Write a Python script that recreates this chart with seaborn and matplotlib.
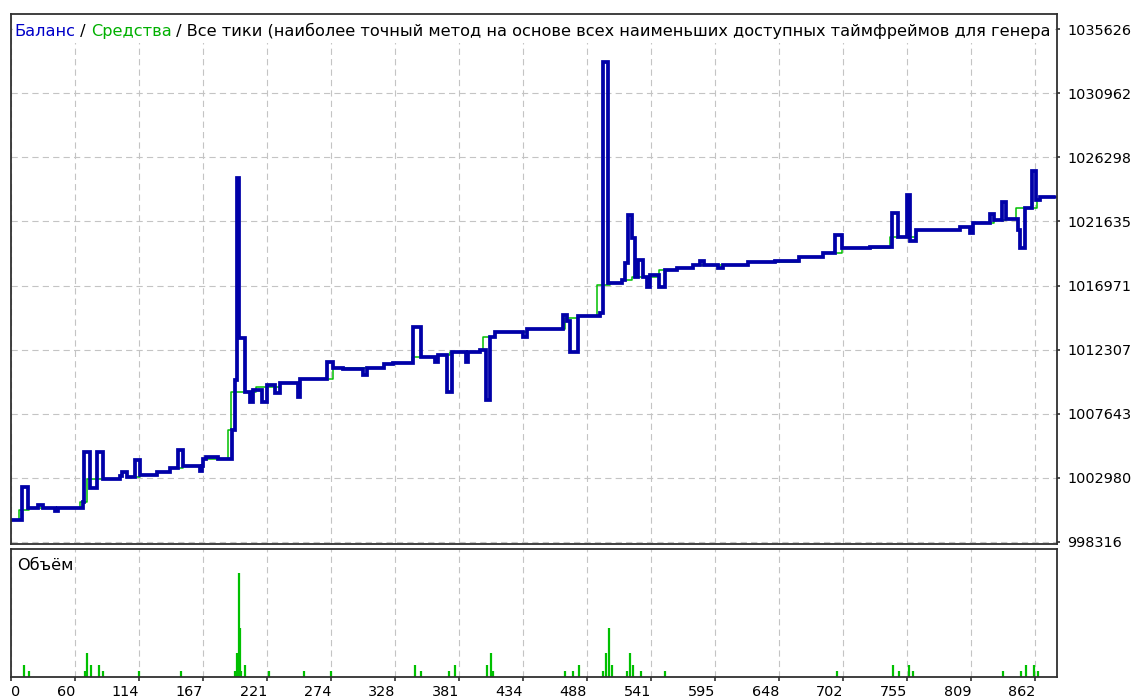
import numpy as np
import pandas as pd
import matplotlib
matplotlib.use("Agg")
import matplotlib.pyplot as plt
from matplotlib.patches import Rectangle
import seaborn as sns

# ---------------- data ----------------
bal_x = [0, 9, 14, 23, 27, 37, 39, 60, 61, 66, 72, 77, 91, 93, 97, 104, 108, 122, 133, 140,
         144, 158, 160, 161, 163, 173, 185, 188, 189, 191, 196, 200, 203, 210, 214, 221, 225, 240, 242, 265,
         270, 278, 295, 298, 312, 320, 337, 343, 355, 358, 365, 369, 381, 383, 393, 398, 401, 405, 429, 432,
         462, 466, 468, 475, 493, 496, 500, 512, 514, 517, 520, 523, 525, 529, 533, 535, 543, 548, 558, 571,
         577, 580, 592, 596, 617, 640, 660, 680, 690, 696, 719, 738, 743, 750, 753, 758, 795, 803, 806, 820,
         823, 830, 833, 843, 845, 849, 855, 858, 862, 874]
balance = [999916, 1002317, 1000790, 1001008, 1000790, 1000571, 1000790, 1001226, 1004864, 1002245,
           1004864, 1002899, 1003118, 1003409, 1003045, 1004282, 1003190, 1003409, 1003700, 1005009,
           1003845, 1003481, 1003845, 1004354, 1004500, 1004354, 1006464, 1010102, 1024797, 1013157,
           1009229, 1008501, 1009374, 1008501, 1009738, 1009156, 1009883, 1008865, 1010174, 1011411,
           1010975, 1010902, 1010465, 1010975, 1011266, 1011338, 1013957, 1011775, 1011411, 1011920,
           1009229, 1012139, 1011411, 1012139, 1012284, 1008647, 1013230, 1013594, 1013230, 1013812,
           1014830, 1014394, 1012139, 1014758, 1014976, 1033236, 1017158, 1017377, 1018613, 1022105,
           1020432, 1017595, 1018832, 1017595, 1016867, 1017740, 1016867, 1018104, 1018250, 1018468,
           1018759, 1018468, 1018250, 1018468, 1018686, 1018759, 1019050, 1019341, 1020650, 1019705,
           1019777, 1022251, 1020505, 1023560, 1020214, 1021014, 1021232, 1020796, 1021523, 1022178,
           1021742, 1023051, 1021814, 1021014, 1019705, 1022615, 1025306, 1023197, 1023415, 1023415]

eq_x = [0, 7, 15, 58, 64, 91, 93, 97, 108, 122, 133, 144, 161, 182, 184, 205, 225, 242, 270, 312,
        320, 336, 358, 368, 393, 395, 405, 432, 464, 475, 491, 502, 512, 520, 543, 558, 571, 617, 660, 680,
        696, 736, 758, 795, 806, 823, 833, 842, 859, 862, 874]
equity = [999916, 1000644, 1000790, 1001226, 1002899, 1003118, 1003409, 1003045, 1003190, 1003409,
          1003700, 1003845, 1004354, 1006464, 1009229, 1009592, 1009883, 1010174, 1010975, 1011266,
          1011338, 1011775, 1011920, 1012139, 1012284, 1013230, 1013594, 1013812, 1014612, 1014758,
          1017013, 1017158, 1017377, 1017595, 1018104, 1018250, 1018468, 1018686, 1019050, 1019341,
          1019705, 1020505, 1021014, 1021232, 1021523, 1021742, 1021814, 1022615, 1023197, 1023415, 1023415]

vol_x = [11, 15, 62, 64, 67, 74, 77, 107, 142, 188, 189, 190, 191, 192, 193, 196, 216, 245, 268,
         338, 343, 367, 372, 399, 402, 404, 464, 471, 476, 496, 498, 501, 503, 516, 518, 521, 528, 548,
         692, 739, 744, 752, 755, 831, 846, 850, 857, 860]
volume = [2, 1, 1, 4, 2, 2, 1, 1, 1, 1, 4, 4, 17, 8, 1, 2, 1, 1, 1,
          2, 1, 1, 2, 2, 4, 1, 1, 1, 2, 1, 4, 8, 2, 1, 4, 2, 1, 1,
          1, 2, 1, 2, 1, 1, 1, 2, 2, 1]

y_ticks = [998316, 1002980, 1007643, 1012307, 1016971, 1021635, 1026298, 1030962, 1035626]
x_tick_labels = ["0", "60", "114", "167", "221", "274", "328", "381", "434", "488",
                 "541", "595", "648", "702", "755", "809", "862"]

# the header as it is visible in the chart (cut at the panel edge)
title_parts = ["Баланс", " / ", "Средства",
               " / Все тики (наиболее точный метод на основе всех наименьших доступных "
               "таймфреймов для генера"]
volume_label = "Объём"

# ---------------- style ----------------
BLUE = "#0000A8"
BLUE_TXT = "#0000C8"
GREEN = "#00C000"
GREEN_TXT = "#00B000"
FRAME = "#303030"
GRID = "#C4C4C4"

sns.set_style("white")
plt.rcParams["font.family"] = ["DejaVu Sans"]
plt.rcParams["lines.scale_dashes"] = False
FS_TITLE = 11.62
FS = 10.4

fig = plt.figure(figsize=(11.36, 7.0), dpi=100)
W, H = 1136.0, 700.0
L, R = 11, 1057
ax1 = fig.add_axes([L / W, (H - 544) / H, (R - L) / W, (544 - 14) / H])
ax2 = fig.add_axes([L / W, (H - 677) / H, (R - L) / W, (677 - 549) / H])

dash = (0, (4.5, 3.0))
x_step = 53.6
xtick_pos = [i * x_step for i in range(len(x_tick_labels))]

# main panel
df_eq = pd.DataFrame({"x": eq_x, "v": equity})
df_bal = pd.DataFrame({"x": bal_x, "v": balance})
sns.lineplot(data=df_eq, x="x", y="v", ax=ax1, color=GREEN, lw=1.1,
             drawstyle="steps-post", estimator=None, sort=False, zorder=3)
sns.lineplot(data=df_bal, x="x", y="v", ax=ax1, color=BLUE, lw=2.7,
             drawstyle="steps-post", estimator=None, sort=False, zorder=4,
             solid_joinstyle="miter")
ax1.set_xlim(0, 876)
ax1.set_ylim(998170, 1036728)
ax1.set_xticks(xtick_pos)
ax1.set_yticks(y_ticks)
ax1.yaxis.tick_right()
ax1.set_yticklabels([str(v) for v in y_ticks])
ax1.tick_params(axis="y", right=True, left=False, length=2, width=1.2, color=FRAME,
                pad=5.5, labelsize=FS, labelcolor="black")
ax1.tick_params(axis="x", length=0, labelbottom=False)
ax1.set_xlabel("")
ax1.set_ylabel("")
ax1.grid(True, color=GRID, linestyle=dash, lw=0.8)

# white band behind the title
ax1.add_patch(Rectangle((0.0015, 1 - 29 / 530), 0.997, 27 / 530, transform=ax1.transAxes,
                        fc="white", ec="none", zorder=5))

# title, multi-coloured, clipped to the panel
colors = [BLUE_TXT, "black", GREEN_TXT, "black"]
prev = ax1.text((14 - L) / (R - L), 1 - 17.5 / 530, title_parts[0], transform=ax1.transAxes,
                color=colors[0], fontsize=FS_TITLE, va="center", ha="left", clip_on=True, zorder=6)
for part, c in zip(title_parts[1:], colors[1:]):
    prev = ax1.annotate(part, xy=(1, 0), xycoords=prev, va="bottom", ha="left",
                        color=c, fontsize=FS_TITLE, annotation_clip=False, zorder=6)
    prev.set_clip_on(True)
    prev.set_clip_path(ax1.patch)

# volume panel
ax2.vlines(vol_x, 0, volume, color=GREEN, lw=1.6)
ax2.set_xlim(0, 876)
ax2.set_ylim(0, 21)
ax2.set_yticks([])
ax2.set_xticks(xtick_pos)
ax2.set_xticklabels(x_tick_labels)
ax2.tick_params(axis="x", bottom=True, length=3, width=1.2, color=FRAME, pad=3,
                labelsize=FS, labelcolor="black")
for i, lab in enumerate(ax2.get_xticklabels()):
    lab.set_ha("left" if i == 0 else "right")
ax2.grid(True, axis="x", color=GRID, linestyle=dash, lw=0.8)
ax2.text(6 / (R - L), 1 - 17 / 128, volume_label, transform=ax2.transAxes,
         fontsize=FS_TITLE, va="center", ha="left", color="black")

for ax in (ax1, ax2):
    for s in ax.spines.values():
        s.set_color(FRAME)
        s.set_linewidth(1.3)
        s.set_visible(True)
        s.set_zorder(7)
    ax.set_facecolor("white")

fig.savefig("out.png", dpi=100, facecolor="white")
